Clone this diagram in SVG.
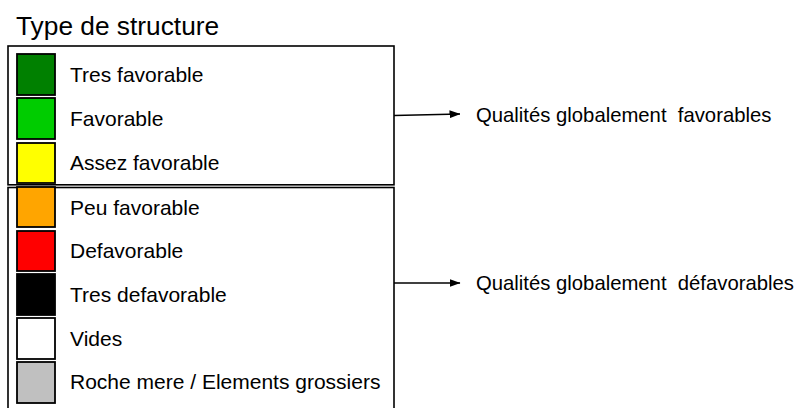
<svg xmlns="http://www.w3.org/2000/svg" width="797" height="408" viewBox="0 0 797 408">
<style>
text{font-family:"Liberation Sans",Arial,sans-serif;fill:#000}
.lbl{font-size:21px}
.q{font-size:20.3px}
.box{fill:none;stroke:#000;stroke-width:1.6}
.sw{stroke:#000;stroke-width:1.8}
.con{stroke:#000;stroke-width:1.6;fill:none}
</style>
<defs>
<marker id="ah" markerWidth="11" markerHeight="8" refX="10.5" refY="4" orient="auto" markerUnits="userSpaceOnUse">
<path d="M0,0 L11,4 L0,8 z" fill="#000"/>
</marker>
</defs>
<rect width="797" height="408" fill="#fff"/>
<text x="16" y="35" style="font-size:26.3px">Type de structure</text>
<g id="group-favorable">
<rect class="box" x="8" y="46" width="386" height="138.8"/>
</g>
<g id="group-defavorable">
<rect class="box" x="8" y="187.5" width="386" height="240"/>
</g>
<g id="tres-favorable"><rect class="sw" x="17" y="54" width="38" height="41" fill="#008000"/><text class="lbl" x="70" y="82">Tres favorable</text></g>
<g id="favorable"><rect class="sw" x="17" y="98" width="38" height="41" fill="#00cc00"/><text class="lbl" x="70" y="126">Favorable</text></g>
<g id="assez-favorable"><rect class="sw" x="17" y="143" width="38" height="40" fill="#ffff00"/><text class="lbl" x="70" y="170">Assez favorable</text></g>
<g id="peu-favorable"><rect class="sw" x="17" y="187" width="38" height="40" fill="#ffa500"/><text class="lbl" x="70" y="215">Peu favorable</text></g>
<g id="defavorable"><rect class="sw" x="17" y="231" width="38" height="40" fill="#ff0000"/><text class="lbl" x="70" y="258">Defavorable</text></g>
<g id="tres-defavorable"><rect class="sw" x="17" y="274" width="38" height="41" fill="#000000"/><text class="lbl" x="70" y="302">Tres defavorable</text></g>
<g id="vides"><rect class="sw" x="17" y="318" width="38" height="41" fill="#ffffff"/><text class="lbl" x="70" y="346">Vides</text></g>
<g id="roche-mere"><rect class="sw" x="17" y="362" width="38" height="41" fill="#c0c0c0"/><text class="lbl" x="70" y="389">Roche mere / Elements grossiers</text></g>
<g id="connectors">
<line class="con" x1="394" y1="115.5" x2="460" y2="114" marker-end="url(#ah)"/>
<line class="con" x1="394" y1="283" x2="460" y2="283" marker-end="url(#ah)"/>
</g>
<g id="qualites-favorables"><text class="q" x="476" y="122" xml:space="preserve">Qualités globalement  favorables</text></g>
<g id="qualites-defavorables"><text class="q" x="476" y="290" xml:space="preserve">Qualités globalement  défavorables</text></g>
</svg>
